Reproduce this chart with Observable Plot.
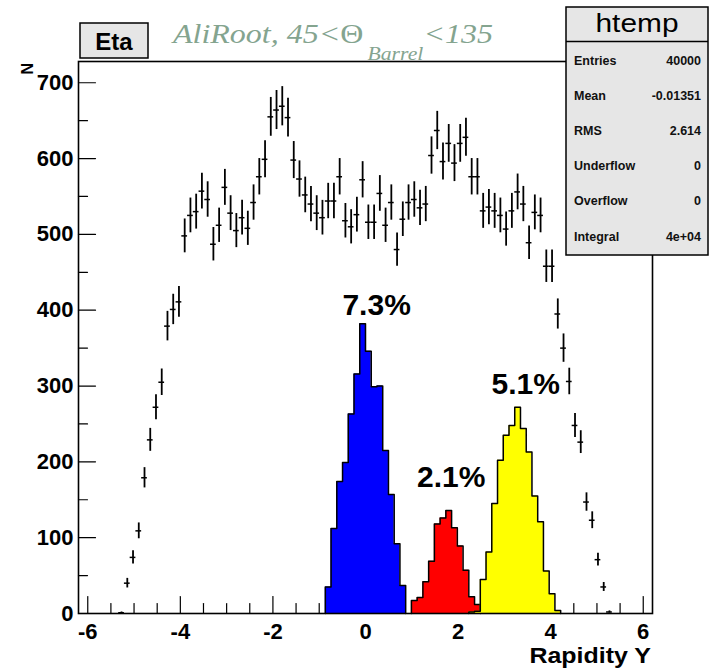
<!DOCTYPE html>
<html>
<head>
<meta charset="utf-8">
<script src="https://cdn.jsdelivr.net/npm/d3@7"></script>
<script src="https://cdn.jsdelivr.net/npm/@observablehq/plot@0.6"></script>
<style>
  body { margin: 0; background: #fff; }
  svg { display: block; }
</style>
</head>
<body>
<div id="chart"></div>
<script>
// ---------- data ----------
const histName = "Eta";
const xMin = -6.2, xMax = 6.2, nBins = 100;
const yMax = 728;

// all entries (black points with errors), bins 7..92
const allFirstBin = 7;
const allCounts = [1, 40, 74, 109, 179, 229, 272, 305, 379, 401, 411, 498, 525, 530, 557, 546, 487, 512, 562, 528, 505, 522, 508, 542, 576, 599, 655,
  664, 669, 654, 598, 573, 552, 540, 528, 522, 544, 544, 576, 518, 510, 526, 572, 516, 516, 554, 512, 542, 480, 520, 542, 546, 535, 540, 604, 637, 596, 620, 594, 620,
  628, 576, 576, 531, 536, 531, 525, 507, 531, 556, 540, 489, 529, 525, 458, 458, 395, 350, 306, 248, 226, 147, 123, 71, 35, 2];

const blueFirstBin = 43;
const blueCounts = [35, 112, 174, 199, 263, 316, 382, 346, 299, 300, 215, 157, 92, 37];
const redFirstBin = 58;
const redCounts = [17, 21, 42, 69, 118, 126, 136, 113, 89, 57, 22, 12];
const yellowFirstBin = 68;
const yellowCounts = [2, 3, 45, 81, 145, 202, 235, 248, 272, 244, 213, 155, 121, 56, 26, 4];

const shareLabels = ["7.3%", "2.1%", "5.1%"];
const shareLabelX = [0.24, 1.85, 3.46];
const shareLabelN = [394, 167, 290];

const xMajorTicks = [-6, -4, -2, 0, 2, 4, 6];
const xMinorTicks = [-5.5, -5, -4.5, -3.5, -3, -2.5, -1.5, -1, -0.5, 0.5, 1, 1.5, 2.5, 3, 3.5, 4.5, 5, 5.5];
const yMajorTicks = [0, 100, 200, 300, 400, 500, 600, 700];
const yMinorTicks = [50, 150, 250, 350, 450, 550, 650];

const titleParts = [
  {text: "AliRoot, 45<", size: 28, style: "italic", shift: 0},
  {text: "Θ", size: 28, style: "normal", shift: 0},
  {text: "Barrel", size: 19, style: "italic", shift: 17},
  {text: "<135", size: 28, style: "italic", shift: 0}
];
const xLabel = "Rapidity Y";
const yLabel = "N";

const statsTitle = "htemp";
const statsNames = ["Entries", "Mean", "RMS", "Underflow", "Overflow", "Integral"];
const statsValues = ["40000", "-0.01351", "2.614", "0", "0", "4e+04"];

// ---------- derived ----------
const binW = (xMax - xMin) / nBins;
const edge = k => xMin + k * binW;
const center = k => xMin + (k + 0.5) * binW;

const points = allCounts.map((n, i) => ({x: center(allFirstBin + i), n}));

function stepFill(first, counts) {
  const pts = counts.map((v, i) => ({x: edge(first + i), y: v}));
  pts.push({x: edge(first + counts.length), y: counts[counts.length - 1]});
  return pts;
}
function stepOutline(first, counts) {
  return [{x: edge(first), y: 0}, ...stepFill(first, counts), {x: edge(first + counts.length), y: 0}];
}
const hists = [
  {first: blueFirstBin, counts: blueCounts, color: "#0000ff"},
  {first: redFirstBin, counts: redCounts, color: "#ff0000"},
  {first: yellowFirstBin, counts: yellowCounts, color: "#ffff00"}
];

const sans = "'Liberation Sans', Arial, Helvetica, sans-serif";
const serif = "'Liberation Serif', 'Times New Roman', Times, serif";
const tickShape = {draw(context, l) { context.moveTo(0, 0); context.lineTo(0, -l); }};

const histMarks = [];
for (const h of hists) {
  histMarks.push(Plot.areaY(stepFill(h.first, h.counts), {x: "x", y: "y", curve: "step-after", fill: h.color}));
  histMarks.push(Plot.line(stepOutline(h.first, h.counts), {x: "x", y: "y", curve: "step-after", stroke: "black", strokeWidth: 1.5}));
}

const plot = Plot.plot({
  width: 715,
  height: 672,
  marginLeft: 78,
  marginRight: 63,
  marginTop: 61,
  marginBottom: 59,
  x: {domain: [xMin, xMax]},
  y: {domain: [0, yMax]},
  style: {fontFamily: sans, background: "white", color: "black", overflow: "visible"},
  marks: [
    Plot.vector(xMajorTicks, {x: d => d, y: () => 0, length: 17, rotate: 0, anchor: "start", shape: tickShape, stroke: "black", strokeWidth: 1.2}),
    Plot.vector(xMinorTicks, {x: d => d, y: () => 0, length: 10, rotate: 0, anchor: "start", shape: tickShape, stroke: "black", strokeWidth: 1.2}),
    Plot.vector(yMajorTicks, {x: () => xMin, y: d => d, length: 17, rotate: 90, anchor: "start", shape: tickShape, stroke: "black", strokeWidth: 1.2}),
    Plot.vector(yMinorTicks, {x: () => xMin, y: d => d, length: 9, rotate: 90, anchor: "start", shape: tickShape, stroke: "black", strokeWidth: 1.2}),
    ...histMarks,
    Plot.ruleX(points, {x: "x", y1: d => d.n - Math.sqrt(d.n), y2: d => d.n + Math.sqrt(d.n), stroke: "black", strokeWidth: 1.8}),
    Plot.ruleY(points, {y: "n", x1: d => d.x - binW / 2, x2: d => d.x + binW / 2, stroke: "black", strokeWidth: 1.5}),
    Plot.text(shareLabels, {x: (d, i) => shareLabelX[i], y: (d, i) => shareLabelN[i], text: d => d, fontSize: 30, fontWeight: "bold", lineAnchor: "bottom", fill: "black"}),
    Plot.axisX({ticks: xMajorTicks, tickSize: 0, tickPadding: 10, tickFormat: d => String(d), fontSize: 22, fontWeight: "bold", label: null}),
    Plot.axisY({ticks: yMajorTicks, tickSize: 0, tickPadding: 5, tickFormat: d => String(d), fontSize: 22, fontWeight: "bold", label: null}),
    Plot.frame({stroke: "black", strokeWidth: 1.6})
  ]
});

document.getElementById("chart").appendChild(plot);
const svg = d3.select(plot);

function fitWidth(g, target) {
  const w = g.node().getBBox().width;
  return w > 0 ? target / w : 1;
}

// histogram name box
const etaG = svg.append("g");
etaG.append("rect").attr("x", 80).attr("y", 23).attr("width", 68).attr("height", 35)
  .attr("fill", "#e6e6e6").attr("stroke", "black").attr("stroke-width", 1.5);
etaG.append("text").attr("x", 114).attr("y", 49.5).attr("text-anchor", "middle")
  .attr("font-family", sans).attr("font-size", 24).attr("font-weight", "bold").attr("fill", "black").text(histName);

// title, laid out part by part (Greek symbol gets a fixed em advance)
const titleG = svg.append("g");
let cursor = 0;
titleParts.forEach((p, i) => {
  const t = titleG.append("text").attr("x", cursor).attr("y", p.shift).attr("text-anchor", "start")
    .attr("font-family", serif).attr("font-style", p.style).attr("font-size", p.size)
    .attr("fill", "#84a48f").text(p.text);
  const adv = p.text === "Θ" ? 0.85 * p.size : t.node().getComputedTextLength();
  cursor += adv;
});
const sxT = 320 / cursor;
titleG.attr("transform", `translate(173,43) scale(${sxT},1)`);

// y label
svg.append("text").attr("transform", "translate(33,63) rotate(-90)").attr("text-anchor", "end")
  .attr("font-family", sans).attr("font-size", 16).attr("font-weight", "bold").attr("fill", "black").text(yLabel);

// x label
const xlG = svg.append("g");
xlG.append("text").attr("x", 0).attr("y", 0).attr("text-anchor", "end")
  .attr("font-family", sans).attr("font-size", 22).attr("font-weight", "bold").attr("fill", "black").text(xLabel);
const sxX = fitWidth(xlG, 122);
xlG.attr("transform", `translate(651,663) scale(${sxX},1)`);

// stats box
const st = svg.append("g");
st.append("rect").attr("x", 566).attr("y", 7).attr("width", 142).attr("height", 248)
  .attr("fill", "#e6e6e6").attr("stroke", "black").attr("stroke-width", 1.5);
st.append("line").attr("x1", 566).attr("x2", 708).attr("y1", 41.5).attr("y2", 41.5)
  .attr("stroke", "black").attr("stroke-width", 1.5);
const htG = st.append("g");
htG.append("text").attr("x", 0).attr("y", 0).attr("text-anchor", "middle")
  .attr("font-family", sans).attr("font-size", 26).attr("fill", "black").text(statsTitle);
const sxH = fitWidth(htG, 83);
htG.attr("transform", `translate(637,32) scale(${sxH},1)`);
statsNames.forEach((name, i) => {
  const yb = 64.5 + i * 35.2;
  st.append("text").attr("x", 574).attr("y", yb).attr("text-anchor", "start").attr("font-family", sans)
    .attr("font-size", 12.5).attr("font-weight", "bold").attr("fill", "#111").text(name);
  st.append("text").attr("x", 701).attr("y", yb).attr("text-anchor", "end").attr("font-family", sans)
    .attr("font-size", 12.5).attr("font-weight", "bold").attr("fill", "#111").text(statsValues[i]);
});
</script>
</body>
</html>
